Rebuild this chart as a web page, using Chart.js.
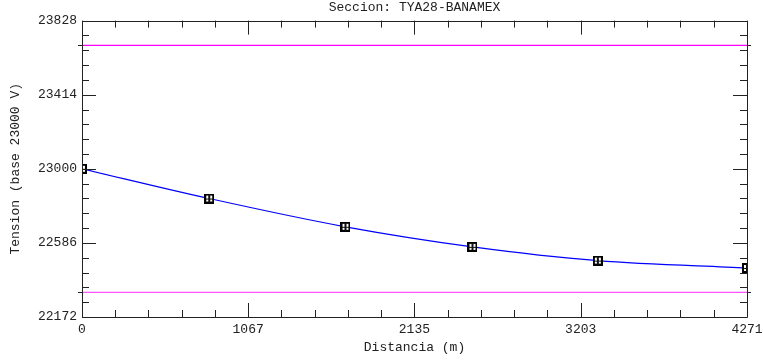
<!DOCTYPE html>
<html>
<head>
<meta charset="utf-8">
<title>Seccion: TYA28-BANAMEX</title>
<script src="https://cdn.jsdelivr.net/npm/chart.js"></script>
<style>
  html, body { margin: 0; padding: 0; background: #fff; }
  #wrap { width: 763px; height: 360px; position: relative; }
</style>
</head>
<body>
<div id="wrap"><canvas id="chart"></canvas></div>
<script>
// ─── DATOS ────────────────────────────────────────────────────────────────
const titulo = 'Seccion: TYA28-BANAMEX';
const distancias = [0, 817, 1692, 2508, 3313, 4271];          // m
const tensiones  = [23000, 22834, 22676, 22564, 22487, 22446]; // V
const limiteSup = 23690;
const limiteInf = 22310;
const xTicks = [0, 1067, 2135, 3203, 4271];
const yTicks = [22172, 22586, 23000, 23414, 23828];

const FONT = "'Liberation Mono', 'DejaVu Sans Mono', monospace";
const INK = '#222';

// marcador: cuadrito negro con glifo blanco
function makeMarker() {
  const c = document.createElement('canvas');
  c.width = 10; c.height = 10;
  const g = c.getContext('2d');
  g.fillStyle = '#000';
  g.fillRect(0, 0, 10, 10);
  g.fillStyle = '#fff';
  g.fillRect(2, 2, 6, 6);
  g.fillStyle = '#111';
  g.fillRect(4, 1, 2, 8);
  g.fillRect(2, 5, 6, 1);
  return c;
}

// ticks hacia adentro + marco completo
const frameTicks = {
  id: 'frameTicks',
  afterDatasetsDraw(chart) {
    const { ctx, chartArea: a, scales: { x, y } } = chart;
    ctx.save();
    ctx.strokeStyle = INK;
    ctx.lineWidth = 1;
    ctx.beginPath();
    ctx.rect(Math.round(a.left) + 0.5, Math.round(a.top) + 0.5,
             Math.round(a.right - a.left), Math.round(a.bottom - a.top));
    ctx.stroke();
    ctx.beginPath();
    for (let i = 0; i < xTicks.length; i++) {
      const px = Math.round(x.getPixelForValue(xTicks[i])) + 0.5;
      ctx.moveTo(px, a.bottom); ctx.lineTo(px, a.bottom - 14);
      ctx.moveTo(px, a.top); ctx.lineTo(px, a.top + 14);
      if (i < xTicks.length - 1) {
        const step = (xTicks[i + 1] - xTicks[i]) / 5;
        for (let k = 1; k < 5; k++) {
          const m = Math.round(x.getPixelForValue(xTicks[i] + k * step)) + 0.5;
          ctx.moveTo(m, a.bottom); ctx.lineTo(m, a.bottom - 7);
          ctx.moveTo(m, a.top); ctx.lineTo(m, a.top + 7);
        }
      }
    }
    for (let i = 0; i < yTicks.length; i++) {
      const py = Math.round(y.getPixelForValue(yTicks[i])) + 0.5;
      ctx.moveTo(a.left, py); ctx.lineTo(a.left + 14, py);
      ctx.moveTo(a.right, py); ctx.lineTo(a.right - 14, py);
      if (i < yTicks.length - 1) {
        const step = (yTicks[i + 1] - yTicks[i]) / 5;
        for (let k = 1; k < 5; k++) {
          const m = Math.round(y.getPixelForValue(yTicks[i] + k * step)) + 0.5;
          ctx.moveTo(a.left, m); ctx.lineTo(a.left + 7, m);
          ctx.moveTo(a.right, m); ctx.lineTo(a.right - 7, m);
        }
      }
    }
    // marcas cortas de los limites, fuera del marco
    [limiteSup, limiteInf].forEach(v => {
      const py = Math.round(y.getPixelForValue(v)) + 0.5;
      ctx.moveTo(a.left - 4, py); ctx.lineTo(a.left, py);
      ctx.moveTo(a.right, py); ctx.lineTo(a.right + 4, py);
    });
    ctx.stroke();
    ctx.restore();
  }
};

const ctx = document.getElementById('chart').getContext('2d');
new Chart(ctx, {
  type: 'line',
  data: {
    datasets: [
      {
        label: 'Limite superior',
        data: [{ x: xTicks[0], y: limiteSup }, { x: xTicks[xTicks.length - 1], y: limiteSup }],
        borderColor: '#ff00ff', borderWidth: 1.3, pointRadius: 0,
      },
      {
        label: 'Limite inferior',
        data: [{ x: xTicks[0], y: limiteInf }, { x: xTicks[xTicks.length - 1], y: limiteInf }],
        borderColor: '#ff55ff', borderWidth: 1.3, pointRadius: 0,
      },
      {
        label: 'Tension',
        data: distancias.map((d, i) => ({ x: d, y: tensiones[i] })),
        borderColor: '#0000ff', borderWidth: 1.2,
        cubicInterpolationMode: 'monotone',
        pointStyle: makeMarker(), pointRadius: 5,
      },
    ],
  },
  options: {
    responsive: true,
    maintainAspectRatio: false,
    animation: false,
    layout: { padding: { top: 0, right: 16, bottom: 0, left: 0 } },
    plugins: {
      legend: { display: false },
      tooltip: { enabled: false },
      title: {
        display: true, text: titulo, fullSize: false, color: INK,
        font: { family: FONT, size: 13, weight: 'normal' },
        padding: { top: 0, bottom: 5 },
      },
    },
    scales: {
      x: {
        type: 'linear', min: 0, max: 4271,
        afterBuildTicks: s => { s.ticks = xTicks.map(v => ({ value: v })); },
        afterFit: s => { s.height = 43; s.paddingLeft = 0; s.paddingRight = 0; },
        grid: { display: false, drawTicks: false },
        border: { display: false },
        ticks: {
          color: INK, padding: 5, maxRotation: 0, font: { family: FONT, size: 13 },
          callback: v => String(v),
        },
        title: {
          display: true, text: 'Distancia (m)', color: INK,
          font: { family: FONT, size: 13 }, padding: { top: 0, bottom: 5 },
        },
      },
      y: {
        type: 'linear', min: 22172, max: 23828,
        afterBuildTicks: s => { s.ticks = yTicks.map(v => ({ value: v })); },
        afterFit: s => { s.width = 82; },
        grid: { display: false, drawTicks: false },
        border: { display: false },
        ticks: {
          color: INK, padding: 5, font: { family: FONT, size: 13 },
          callback: v => String(v),
        },
        title: {
          display: true, text: 'Tension (base 23000 V)', color: INK,
          font: { family: FONT, size: 13 }, padding: { top: 8, bottom: 0 },
        },
      },
    },
  },
  plugins: [frameTicks],
});
</script>
</body>
</html>
